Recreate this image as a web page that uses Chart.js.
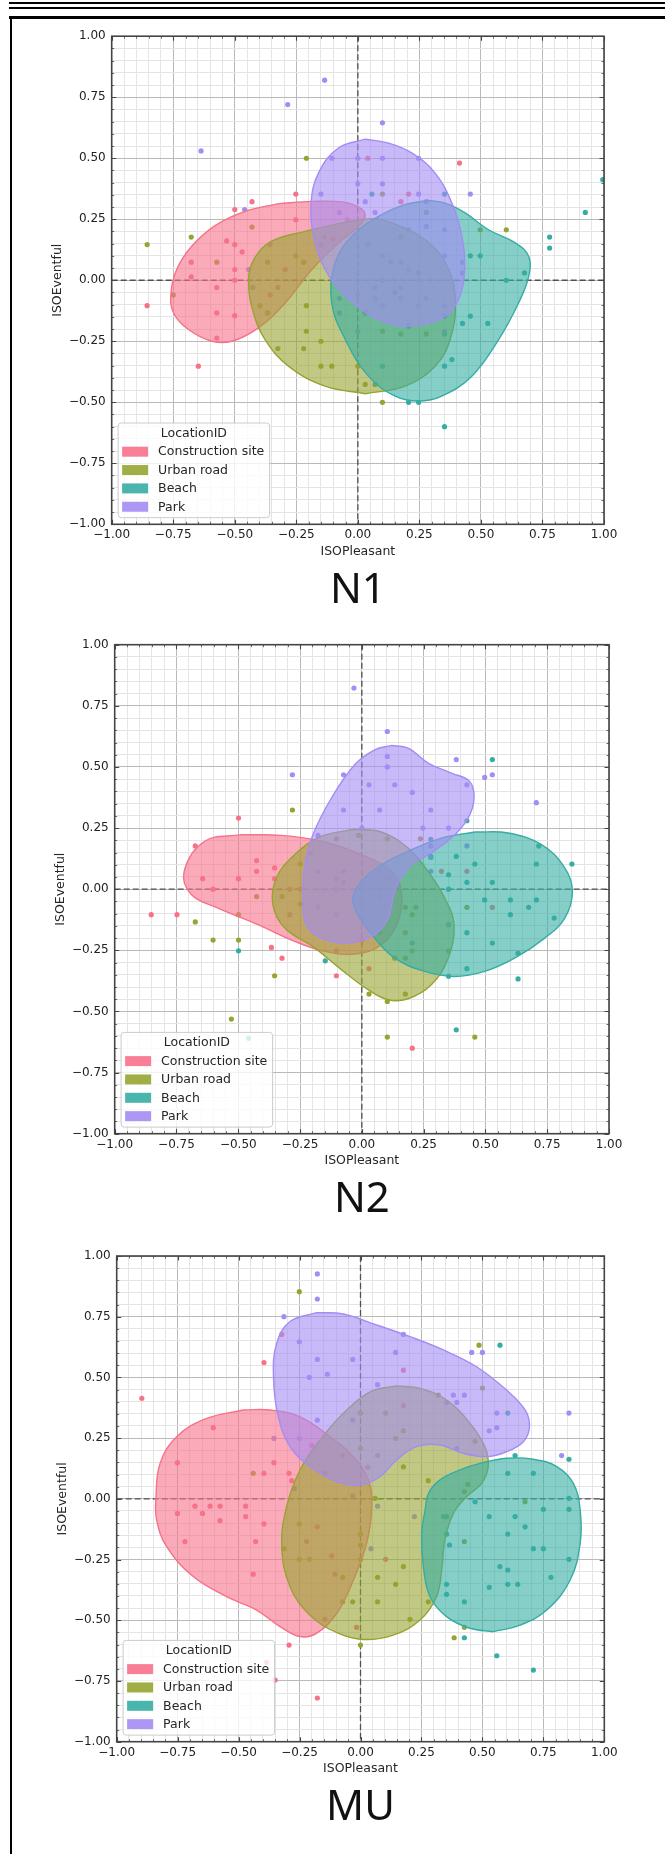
<!DOCTYPE html>
<html>
<head>
<meta charset="utf-8">
<script src="https://cdn.jsdelivr.net/npm/chart.js@4.4.1/dist/chart.umd.min.js"></script>
<style>
html,body{margin:0;padding:0;background:#fff;}
body{width:665px;height:1854px;position:relative;overflow:hidden;}
canvas{position:absolute;left:0;}
.rule{position:absolute;background:#000;z-index:5;}
</style>
</head>
<body>
<div class="rule" style="left:9px;top:2px;width:656px;height:2px"></div>
<div class="rule" style="left:9px;top:7px;width:656px;height:2px"></div>
<div class="rule" style="left:9px;top:16px;width:656px;height:3px"></div>
<div class="rule" style="left:10px;top:16px;width:2px;height:1838px"></div>
<script>
// ---------------- DATA ----------------
const categories = ['Construction site', 'Urban road', 'Beach', 'Park'];
const legendTitle = 'LocationID';
const panelTitles = ['N1', 'N2', 'MU'];
const xAxisTitle = 'ISOPleasant';
const yAxisTitle = 'ISOEventful';
const majorTicks = [-1, -0.75, -0.5, -0.25, 0, 0.25, 0.5, 0.75, 1];
const minorStep = 0.05;

// N1 scatter points [ISOPleasant, ISOEventful]
const n1Construction = [[-0.856,-0.104],[-0.648,-0.352],[-0.573,-0.237],[-0.573,-0.134],[-0.50,-0.145],[-0.573,-0.03],[-0.50,0.0],[-0.50,0.044],[-0.677,0.014],[-0.677,0.074],[-0.533,0.161],[-0.50,0.146],[-0.47,0.116],[-0.50,0.29],[-0.43,0.322],[-0.356,0.146],[-0.295,0.044],[-0.325,-0.03],[-0.356,-0.06],[-0.366,-0.134],[-0.252,0.353],[-0.252,0.248],[-0.22,0.074],[-0.042,0.248],[-0.135,0.177],[0.04,0.50],[0.206,0.353],[0.175,0.322],[0.413,0.48],[0.0,-0.06],[0.03,-0.134],[-0.10,0.17]];
const n1Urban = [[-0.856,0.146],[-0.677,0.177],[-0.75,-0.06],[-0.209,0.50],[-0.43,0.218],[-0.367,0.074],[-0.252,0.10],[-0.22,0.074],[-0.397,-0.104],[-0.367,-0.134],[-0.325,-0.28],[-0.22,-0.28],[-0.209,-0.209],[-0.209,-0.104],[-0.15,-0.25],[-0.15,-0.352],[-0.106,-0.352],[0.03,-0.427],[0.10,-0.50],[0.10,0.353],[0.278,0.278],[0.175,0.177],[0.10,0.10],[0.278,-0.074],[0.07,-0.03],[0.175,-0.22],[0.278,-0.22],[0.10,-0.209],[0.497,0.207],[0.603,0.207],[0.0,-0.352],[-0.573,0.074]];
const n1Beach = [[0.995,0.412],[0.924,0.278],[0.779,0.177],[0.779,0.132],[0.352,0.353],[0.057,0.353],[0.457,0.10],[0.497,0.10],[0.603,0.0],[0.677,0.03],[0.457,-0.147],[0.425,-0.177],[0.528,-0.177],[0.352,-0.147],[0.352,-0.352],[0.382,-0.325],[0.206,-0.50],[0.247,-0.50],[0.352,-0.60],[0.10,-0.352],[0.206,-0.188],[0.07,-0.427],[0.278,0.22],[0.352,-0.22],[0.247,0.03],[0.15,-0.05]];
const n1Park = [[-0.135,0.82],[-0.285,0.72],[-0.637,0.53],[0.10,0.645],[-0.105,0.50],[0.0,0.50],[0.10,0.50],[0.247,0.50],[0.0,0.395],[0.10,0.395],[-0.15,0.353],[0.247,0.353],[0.457,0.353],[0.03,0.322],[-0.46,0.29],[-0.075,0.278],[0.07,0.278],[0.278,0.322],[0.278,0.22],[0.206,0.207],[0.352,0.207],[-0.15,0.146],[0.04,0.146],[0.352,0.10],[0.134,0.074],[0.175,0.074],[0.425,0.074],[-0.444,0.044],[0.206,0.044],[0.425,0.03],[0.10,0.0],[0.247,0.0],[0.175,-0.03],[0.07,-0.074],[0.175,-0.074],[-0.075,-0.074],[0.10,-0.104],[0.247,-0.104],[0.352,-0.209],[-0.075,-0.134],[0.03,-0.134],[0.0,-0.209],[-0.427,-0.03],[0.352,-0.104]];
// N1 density contour outlines
const n1ConstructionArea = [[-0.322,0.314],[-0.187,0.323],[-0.065,0.321],[0.003,0.300],[0.030,0.266],[0.003,0.221],[-0.079,0.153],[-0.187,0.044],[-0.295,-0.093],[-0.404,-0.195],[-0.512,-0.250],[-0.593,-0.250],[-0.688,-0.202],[-0.749,-0.134],[-0.759,-0.052],[-0.736,0.044],[-0.675,0.139],[-0.580,0.224],[-0.458,0.282],[-0.322,0.314]];
const n1UrbanArea = [[0.030,-0.465],[-0.133,-0.434],[-0.282,-0.352],[-0.377,-0.243],[-0.424,-0.134],[-0.444,0.003],[-0.42,0.09],[-0.35,0.16],[-0.214,0.20],[-0.079,0.232],[0.03,0.25],[0.098,0.248],[0.274,0.166],[0.369,0.044],[0.396,-0.093],[0.375,-0.243],[0.314,-0.352],[0.192,-0.434],[0.030,-0.465]];
const n1BeachArea = [[0.287,0.327],[0.355,0.316],[0.436,0.276],[0.531,0.207],[0.640,0.153],[0.694,0.098],[0.694,0.016],[0.653,-0.093],[0.572,-0.243],[0.463,-0.393],[0.341,-0.475],[0.247,-0.495],[0.152,-0.475],[0.043,-0.393],[-0.051,-0.243],[-0.106,-0.093],[-0.092,0.071],[-0.024,0.180],[0.084,0.262],[0.192,0.310],[0.287,0.327]];
const n1ParkArea = [[0.030,0.578],[0.125,0.562],[0.220,0.521],[0.314,0.439],[0.382,0.316],[0.423,0.180],[0.434,0.044],[0.409,-0.079],[0.355,-0.147],[0.260,-0.181],[0.165,-0.186],[0.057,-0.147],[-0.051,-0.065],[-0.133,0.044],[-0.180,0.180],[-0.190,0.316],[-0.160,0.439],[-0.079,0.542],[0.030,0.578]];

// N2 scatter points
const n2Construction = [[-0.852,-0.104],[-0.748,-0.104],[-0.674,0.177],[-0.644,0.043],[-0.602,0.0],[-0.499,0.291],[-0.499,0.043],[-0.426,0.117],[-0.426,0.073],[-0.353,0.087],[-0.353,0.043],[-0.291,0.0],[-0.249,0.0],[-0.292,-0.104],[-0.366,-0.238],[-0.323,-0.282],[-0.103,0.206],[-0.103,-0.252],[0.0,-0.208],[0.029,-0.325],[-0.103,-0.354],[0.204,-0.65],[0.322,0.073],[0.425,0.073],[0.528,-0.074]];
const n2Urban = [[-0.281,0.324],[-0.013,0.22],[0.103,0.206],[-0.249,0.103],[-0.323,-0.03],[-0.249,-0.061],[-0.499,-0.104],[-0.674,-0.134],[-0.602,-0.208],[-0.499,-0.208],[-0.353,-0.354],[-0.528,-0.531],[0.103,-0.605],[0.457,-0.605],[0.029,-0.429],[0.103,-0.459],[0.176,-0.429],[0.133,-0.282],[0.176,-0.282],[0.176,-0.178],[0.204,-0.252],[0.204,-0.104],[0.176,-0.074],[0.218,-0.074],[0.425,-0.074],[0.072,-0.178],[0.237,0.206],[0.351,-0.252],[-0.426,-0.03]];
const n2Beach = [[0.528,0.53],[0.425,0.28],[0.716,0.177],[0.850,0.103],[0.706,0.103],[0.382,0.134],[0.457,0.103],[0.351,0.059],[0.425,0.028],[0.528,0.028],[0.351,0.0],[0.279,0.134],[0.497,-0.044],[0.601,-0.044],[0.706,-0.044],[0.675,-0.074],[0.601,-0.104],[0.778,-0.118],[0.351,-0.145],[0.425,-0.178],[0.528,-0.22],[0.632,-0.262],[0.425,-0.325],[0.351,-0.356],[0.632,-0.367],[0.382,-0.575],[-0.148,-0.293],[-0.499,-0.252],[-0.458,-0.61],[0.204,-0.22],[0.279,0.204]];
const n2Park = [[-0.032,0.823],[0.103,0.645],[0.103,0.543],[0.103,0.50],[0.382,0.53],[0.528,0.468],[0.497,0.457],[-0.281,0.468],[-0.074,0.468],[0.029,0.427],[0.133,0.427],[0.204,0.396],[0.425,0.427],[-0.074,0.324],[0.072,0.324],[0.279,0.324],[0.706,0.354],[0.247,0.25],[0.351,0.25],[0.0,0.25],[-0.177,0.22],[0.425,0.177],[0.279,0.177],[-0.207,0.148],[-0.177,0.073],[-0.074,0.073],[-0.103,0.043],[-0.074,0.028],[-0.103,0.0],[0.072,0.073],[0.279,0.073],[-0.177,-0.074],[-0.103,-0.104],[0.072,-0.03],[0.279,0.13],[0.103,0.043]];
// N2 density contour outlines
const n2ConstructionArea = [[-0.488,0.223],[-0.326,0.220],[-0.164,0.196],[-0.002,0.141],[0.119,0.073],[0.160,-0.009],[0.146,-0.131],[0.079,-0.227],[-0.029,-0.265],[-0.150,-0.254],[-0.272,-0.213],[-0.420,-0.145],[-0.582,-0.077],[-0.690,-0.022],[-0.719,0.073],[-0.636,0.196],[-0.488,0.223]];
const n2UrbanArea = [[-0.029,0.245],[0.079,0.234],[0.187,0.168],[0.268,0.073],[0.335,-0.036],[0.373,-0.145],[0.349,-0.282],[0.281,-0.391],[0.187,-0.448],[0.106,-0.452],[0.025,-0.411],[-0.083,-0.329],[-0.191,-0.240],[-0.312,-0.159],[-0.360,-0.063],[-0.346,0.046],[-0.272,0.141],[-0.164,0.216],[-0.029,0.245]];
const n2BeachArea = [[0.457,0.234],[0.592,0.230],[0.727,0.182],[0.821,0.087],[0.852,-0.009],[0.821,-0.118],[0.740,-0.200],[0.618,-0.282],[0.497,-0.336],[0.376,-0.357],[0.254,-0.336],[0.133,-0.282],[0.052,-0.200],[-0.016,-0.104],[-0.036,-0.036],[-0.002,0.032],[0.079,0.100],[0.187,0.155],[0.322,0.209],[0.457,0.234]];
const n2ParkArea = [[0.119,0.588],[0.187,0.577],[0.268,0.516],[0.362,0.475],[0.436,0.441],[0.454,0.373],[0.430,0.291],[0.362,0.209],[0.268,0.141],[0.187,0.087],[0.133,-0.009],[0.106,-0.118],[0.052,-0.186],[-0.056,-0.220],[-0.164,-0.200],[-0.225,-0.145],[-0.238,-0.036],[-0.231,0.100],[-0.198,0.223],[-0.123,0.373],[-0.029,0.509],[0.052,0.570],[0.119,0.588]];

// MU scatter points
const muConstruction = [[-0.897,0.414],[-0.396,0.561],[-0.323,0.677],[0.176,0.53],[0.176,0.384],[-0.604,0.293],[-0.751,0.149],[-0.355,0.149],[-0.396,0.105],[-0.293,0.105],[-0.282,0.075],[-0.679,-0.03],[-0.617,-0.03],[-0.576,-0.03],[-0.471,-0.03],[-0.751,-0.06],[-0.648,-0.06],[-0.471,-0.073],[-0.576,-0.09],[-0.396,-0.103],[-0.720,-0.176],[-0.430,-0.176],[-0.221,-0.176],[-0.177,-0.115],[-0.440,-0.31],[-0.118,-0.235],[-0.104,-0.31],[-0.146,-0.496],[-0.016,-0.529],[0.103,-0.249],[-0.293,-0.602],[-0.35,-0.746],[-0.177,-0.82],[-0.385,-0.673],[0.03,0.13],[-0.20,0.22]];
const muUrban = [[-0.251,0.853],[0.486,0.633],[0.50,0.456],[0.319,0.427],[0.103,0.353],[0.0,0.353],[0.144,0.249],[0.176,0.28],[0.47,0.237],[-0.073,0.178],[0.0,0.208],[-0.146,0.105],[0.176,0.132],[0.278,0.075],[0.426,0.03],[0.44,0.06],[0.06,0.002],[0.675,-0.012],[0.426,-0.176],[-0.251,-0.103],[0.0,-0.145],[0.0,-0.19],[-0.314,-0.205],[-0.251,-0.249],[-0.210,-0.249],[0.0,-0.249],[-0.073,-0.323],[0.07,-0.323],[0.144,-0.352],[0.176,-0.279],[-0.032,-0.424],[0.07,-0.424],[-0.073,-0.424],[0.203,-0.496],[0.0,-0.602],[0.384,-0.572],[0.426,-0.529],[0.278,-0.424],[0.34,-0.073],[-0.440,0.105]];
const muBeach = [[0.572,0.633],[0.604,0.353],[0.634,0.178],[0.855,0.163],[0.604,0.105],[0.709,0.105],[0.855,0.002],[0.47,-0.012],[0.75,-0.043],[0.855,-0.043],[0.528,-0.073],[0.634,-0.073],[0.675,-0.115],[0.604,-0.145],[0.353,-0.145],[0.709,-0.205],[0.75,-0.205],[0.855,-0.249],[0.572,-0.279],[0.604,-0.293],[0.781,-0.323],[0.528,-0.364],[0.604,-0.352],[0.645,-0.352],[0.353,-0.352],[0.353,-0.393],[0.426,-0.424],[0.426,-0.572],[0.559,-0.646],[0.709,-0.705],[0.353,-0.073],[0.365,-0.19]];
const muPark = [[-0.177,0.926],[-0.177,0.823],[-0.314,0.75],[-0.251,0.647],[-0.177,0.574],[-0.032,0.574],[-0.210,0.50],[-0.136,0.513],[0.176,0.677],[0.144,0.603],[0.456,0.603],[0.50,0.603],[0.07,0.47],[0.381,0.427],[0.426,0.427],[0.395,0.397],[0.353,0.397],[0.559,0.353],[0.855,0.353],[0.528,0.28],[0.559,0.293],[-0.032,0.324],[-0.177,0.324],[-0.251,0.249],[-0.355,0.249],[0.395,0.208],[0.07,0.178],[0.825,0.178],[-0.032,0.012],[0.221,-0.073],[0.043,-0.205],[-0.271,0.043],[0.07,-0.03]];
// MU density contour outlines
const muConstructionArea = [[-0.481,0.366],[-0.371,0.366],[-0.248,0.338],[-0.125,0.256],[-0.029,0.174],[0.032,0.078],[0.046,-0.032],[0.025,-0.183],[-0.029,-0.334],[-0.097,-0.471],[-0.179,-0.553],[-0.248,-0.567],[-0.330,-0.526],[-0.426,-0.458],[-0.549,-0.403],[-0.686,-0.320],[-0.795,-0.197],[-0.836,-0.087],[-0.839,0.002],[-0.822,0.146],[-0.754,0.256],[-0.631,0.331],[-0.481,0.366]];
const muUrbanArea = [[0.148,0.465],[0.244,0.455],[0.353,0.407],[0.449,0.311],[0.510,0.215],[0.524,0.133],[0.497,0.064],[0.435,0.009],[0.381,-0.060],[0.346,-0.170],[0.333,-0.293],[0.312,-0.403],[0.244,-0.499],[0.134,-0.561],[0.012,-0.579],[-0.097,-0.551],[-0.207,-0.479],[-0.289,-0.362],[-0.323,-0.197],[-0.303,-0.032],[-0.248,0.119],[-0.166,0.242],[-0.070,0.352],[0.039,0.441],[0.148,0.465]];
const muBeachArea = [[0.545,-0.547],[0.654,-0.520],[0.764,-0.458],[0.860,-0.334],[0.901,-0.183],[0.901,-0.046],[0.873,0.064],[0.805,0.133],[0.709,0.163],[0.600,0.167],[0.490,0.146],[0.408,0.119],[0.326,0.078],[0.279,0.023],[0.265,-0.046],[0.251,-0.142],[0.258,-0.279],[0.285,-0.403],[0.353,-0.485],[0.449,-0.533],[0.545,-0.547]];
const muParkArea = [[-0.180,0.767],[-0.070,0.761],[0.066,0.716],[0.203,0.668],[0.340,0.613],[0.476,0.544],[0.599,0.448],[0.675,0.366],[0.693,0.297],[0.668,0.235],[0.599,0.194],[0.517,0.174],[0.422,0.187],[0.326,0.222],[0.230,0.215],[0.148,0.160],[0.080,0.091],[-0.002,0.057],[-0.098,0.071],[-0.207,0.133],[-0.289,0.215],[-0.337,0.338],[-0.357,0.503],[-0.344,0.640],[-0.289,0.730],[-0.180,0.767]];

// ---------------- STYLE / LAYOUT ----------------
const COLORS = ['#f77189', '#97a431', '#36ada4', '#a48cf4'];
const FILL_ALPHA = 0.6;
const LAYOUT = [
  {canvasTop: 20,   canvasH: 600, left: 111.7, right: 604.0, top: 36.2,   bottom: 524.3},
  {canvasTop: 620,  canvasH: 610, left: 114.7, right: 609.0, top: 644.7,  bottom: 1133.7},
  {canvasTop: 1230, canvasH: 624, left: 116.7, right: 604.3, top: 1256.0, bottom: 1741.7}
];
const X_SCALE_H = 36;
const TITLE_FONT = 42, TITLE_PAD_TOP = 5.5;

Chart.defaults.font.family = '"DejaVu Sans", sans-serif';

function rgba(hex, a) {
  const n = parseInt(hex.slice(1), 16);
  return `rgba(${(n >> 16) & 255},${(n >> 8) & 255},${n & 255},${a})`;
}
function isMajor(v) { return majorTicks.some(m => Math.abs(m - v) < 1e-6); }
function fmtTick(v) {
  if (!isMajor(v)) return '';
  const s = (Math.abs(v) < 1e-9 ? 0 : v).toFixed(2);
  return s.replace('-', '\u2212');
}
function toXY(arr) { return arr.map(p => ({x: p[0], y: p[1]})); }

const decorPlugin = {
  id: 'decor',
  beforeDatasetsDraw(chart) {
    const {ctx, chartArea: a, scales: {x, y}} = chart;
    const x0 = x.getPixelForValue(0), y0 = y.getPixelForValue(0);
    ctx.save();
    ctx.strokeStyle = '#505050';
    ctx.lineWidth = 1.3;
    ctx.setLineDash([6, 3]);
    ctx.beginPath();
    ctx.moveTo(x0, a.top); ctx.lineTo(x0, a.bottom);
    ctx.moveTo(a.left, y0); ctx.lineTo(a.right, y0);
    ctx.stroke();
    ctx.restore();
  },
  afterDatasetsDraw(chart) {
    const {ctx, chartArea: a, scales: {x, y}} = chart;
    ctx.save();
    // inward ticks
    ctx.strokeStyle = '#444';
    x.ticks.forEach(t => {
      const p = Math.round(x.getPixelForValue(t.value)) + 0.5;
      const len = isMajor(t.value) ? 4.5 : 2.5;
      ctx.lineWidth = isMajor(t.value) ? 1.1 : 0.8;
      ctx.beginPath();
      ctx.moveTo(p, a.bottom); ctx.lineTo(p, a.bottom - len);
      ctx.moveTo(p, a.top); ctx.lineTo(p, a.top + len);
      ctx.stroke();
    });
    y.ticks.forEach(t => {
      const p = Math.round(y.getPixelForValue(t.value)) + 0.5;
      const len = isMajor(t.value) ? 4.5 : 2.5;
      ctx.lineWidth = isMajor(t.value) ? 1.1 : 0.8;
      ctx.beginPath();
      ctx.moveTo(a.left, p); ctx.lineTo(a.left + len, p);
      ctx.moveTo(a.right, p); ctx.lineTo(a.right - len, p);
      ctx.stroke();
    });
    // frame
    ctx.strokeStyle = '#444';
    ctx.lineWidth = 1.6;
    ctx.strokeRect(a.left, a.top, a.right - a.left, a.bottom - a.top);
    // legend
    const W = 151.5, H = 94.7;
    const L = a.left + 6.4, B = a.bottom - 6.6, T = B - H, r = 3;
    ctx.beginPath();
    ctx.moveTo(L + r, T); ctx.lineTo(L + W - r, T); ctx.quadraticCurveTo(L + W, T, L + W, T + r);
    ctx.lineTo(L + W, B - r); ctx.quadraticCurveTo(L + W, B, L + W - r, B);
    ctx.lineTo(L + r, B); ctx.quadraticCurveTo(L, B, L, B - r);
    ctx.lineTo(L, T + r); ctx.quadraticCurveTo(L, T, L + r, T);
    ctx.closePath();
    ctx.fillStyle = 'rgba(255,255,255,0.8)';
    ctx.fill();
    ctx.strokeStyle = '#cccccc';
    ctx.lineWidth = 1;
    ctx.stroke();
    ctx.font = '12.5px "DejaVu Sans"';
    ctx.textBaseline = 'middle';
    ctx.fillStyle = '#262626';
    ctx.textAlign = 'center';
    ctx.fillText(legendTitle, L + W / 2, T + 10.5);
    ctx.textAlign = 'left';
    categories.forEach((name, i) => {
      const cy = T + 28.7 + i * 18.35;
      ctx.fillStyle = rgba(COLORS[i], 0.9);
      ctx.fillRect(L + 4, cy - 5, 26, 10);
      ctx.fillStyle = '#262626';
      ctx.fillText(name, L + 40, cy + 0.5);
    });
    ctx.restore();
  }
};

function makeChart(idx, points, areas) {
  const g = LAYOUT[idx];
  const cv = document.createElement('canvas');
  cv.width = 665; cv.height = g.canvasH;
  cv.style.top = g.canvasTop + 'px';
  document.body.appendChild(cv);
  const chartTop = g.top - g.canvasTop;
  const chartBottom = g.bottom - g.canvasTop;
  const titleBoxH = TITLE_FONT * 1.2 + TITLE_PAD_TOP;
  const padBottom = g.canvasH - chartBottom - X_SCALE_H - titleBoxH;

  const datasets = [];
  categories.forEach((name, i) => {
    datasets.push({
      label: name + ' points', data: toXY(points[i]),
      backgroundColor: COLORS[i], borderColor: COLORS[i],
      pointRadius: 2.6, pointHoverRadius: 2.6, pointBorderWidth: 0,
      showLine: false, order: 20 - i
    });
  });
  categories.forEach((name, i) => {
    datasets.push({
      label: name, data: toXY(areas[i]),
      showLine: true, fill: 'shape', tension: 0.4,
      backgroundColor: rgba(COLORS[i], FILL_ALPHA), borderColor: COLORS[i], borderWidth: 1.4,
      pointRadius: 0, pointHoverRadius: 0, order: 10 - i
    });
  });

  const gridColor = c => isMajor(c.tick.value) ? '#b9b9b9' : '#e4e4e4';
  const tickFont = {family: '"DejaVu Sans"', size: 12};
  const labelFont = {family: '"DejaVu Sans"', size: 12.5, lineHeight: 1.2};

  new Chart(cv, {
    type: 'scatter',
    data: {datasets},
    options: {
      responsive: false, animation: false, events: [],
      layout: {padding: {left: 0, right: 665 - g.right, top: chartTop, bottom: padBottom}, autoPadding: false},
      plugins: {
        legend: {display: false}, tooltip: {enabled: false},
        title: {
          display: true, text: panelTitles[idx], position: 'bottom', fullSize: false,
          font: {family: '"Noto Sans"', size: TITLE_FONT, weight: 'normal', lineHeight: 1.2},
          color: '#111', padding: {top: TITLE_PAD_TOP, bottom: 0}
        }
      },
      scales: {
        x: {
          type: 'linear', position: 'bottom', min: -1, max: 1,
          afterFit: s => { s.height = X_SCALE_H; },
          ticks: {stepSize: minorStep, autoSkip: false, maxRotation: 0, minRotation: 0, callback: fmtTick, font: tickFont, color: '#222', padding: 3.5},
          grid: {color: gridColor, lineWidth: 1, drawTicks: false},
          border: {display: false},
          title: {display: true, text: xAxisTitle, font: labelFont, color: '#262626', padding: {top: 0, bottom: 1.2}}
        },
        y: {
          type: 'linear', position: 'left', min: -1, max: 1,
          afterFit: s => { s.width = g.left; },
          ticks: {stepSize: minorStep, autoSkip: false, callback: fmtTick, font: tickFont, color: '#222', padding: 6},
          grid: {color: gridColor, lineWidth: 1, drawTicks: false},
          border: {display: false},
          title: {display: true, text: yAxisTitle, font: labelFont, color: '#262626', padding: {top: g.left - 53.6 - 7.5, bottom: 0}}
        }
      }
    },
    plugins: [decorPlugin]
  });
}

makeChart(0, [n1Construction, n1Urban, n1Beach, n1Park], [n1ConstructionArea, n1UrbanArea, n1BeachArea, n1ParkArea]);
makeChart(1, [n2Construction, n2Urban, n2Beach, n2Park], [n2ConstructionArea, n2UrbanArea, n2BeachArea, n2ParkArea]);
makeChart(2, [muConstruction, muUrban, muBeach, muPark], [muConstructionArea, muUrbanArea, muBeachArea, muParkArea]);
</script>
</body>
</html>
